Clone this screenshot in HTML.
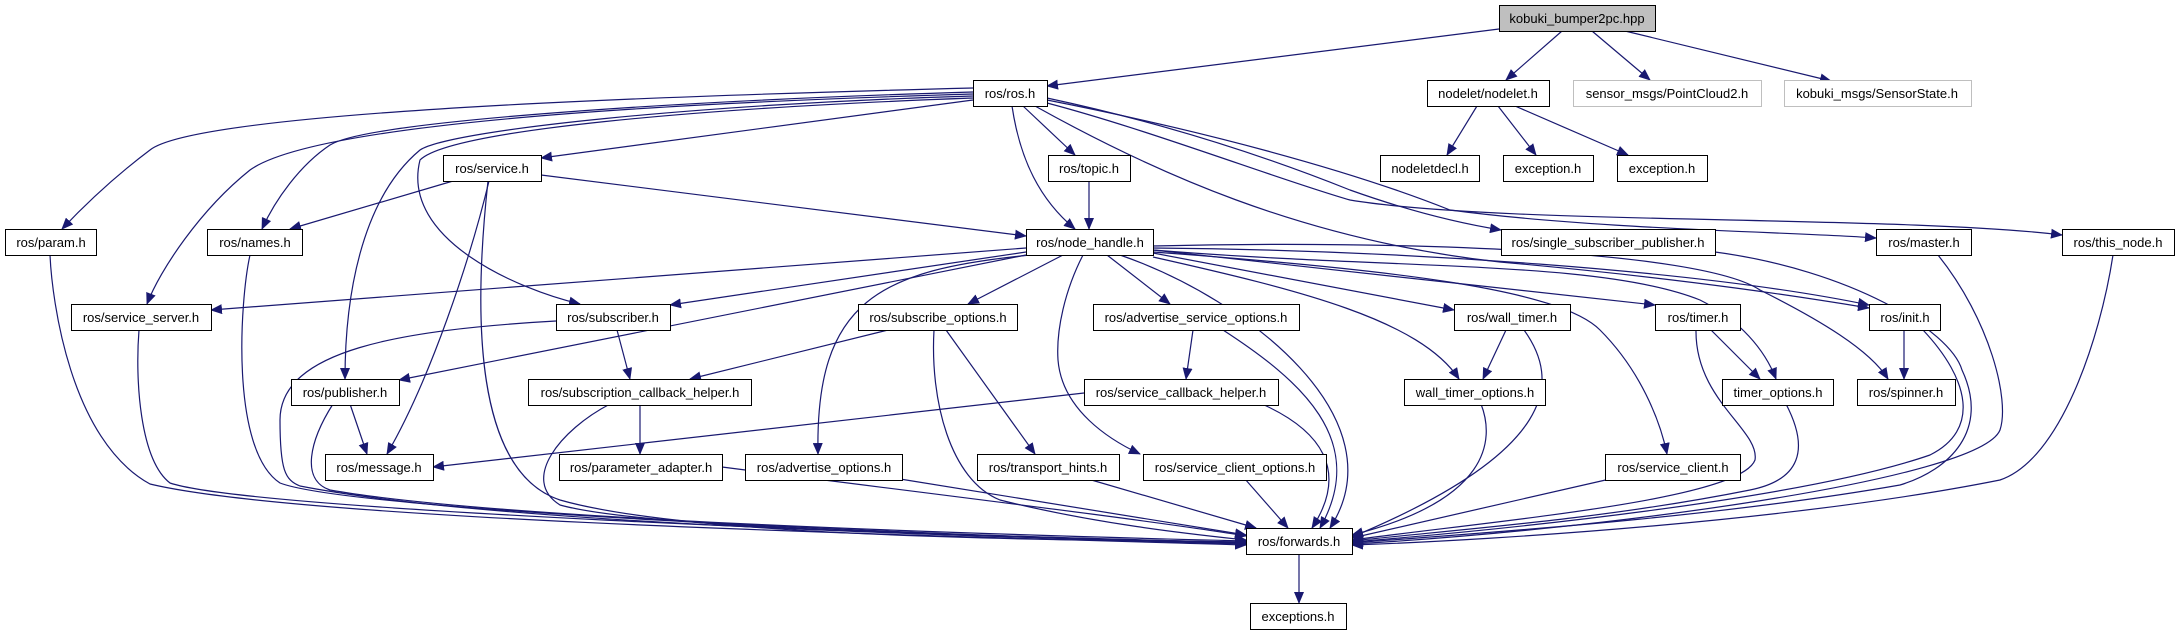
<!DOCTYPE html>
<html><head><meta charset="utf-8"><style>
html,body{margin:0;padding:0;background:#fff;}
svg{display:block;}
text{font-family:"Liberation Sans",Arial,sans-serif;font-size:13px;fill:#000;}
</style></head><body>
<svg width="2179" height="635" viewBox="0 0 2179 635" xmlns="http://www.w3.org/2000/svg">
<defs>
<marker id="a" markerWidth="12" markerHeight="10" refX="11" refY="5" orient="auto" markerUnits="userSpaceOnUse">
<polygon points="0,0 12,5 0,10" fill="#191970"/>
</marker>
</defs>
<g fill="none" stroke="#191970" stroke-width="1.2" marker-end="url(#a)">
<path d="M1499,29 L1047,86"/>
<path d="M1562,31 L1506,80"/>
<path d="M1592,31 L1650,80"/>
<path d="M1625,31 L1831,81"/>
<path d="M1477,106 L1447,155"/>
<path d="M1498,106 L1536,155"/>
<path d="M1515,106 L1628,155"/>
<path d="M1023,106 L1075,155"/>
<path d="M1089,181 L1089,229"/>
<path d="M1012,106 C1020,160 1040,200 1075,229"/>
<path d="M973,100 L541,158"/>
<path d="M453,181 L290,229"/>
<path d="M541,175 L1026,236"/>
<path d="M489,181 C470,260 430,380 387,454"/>
<path d="M488,181 C475,300 470,470 560,500 C700,540 1100,540 1246,542"/>
<path d="M973,88 C700,95 200,110 150,150 C110,180 80,210 62,229"/>
<path d="M973,92 C700,100 370,120 330,145 C300,165 275,200 262,229"/>
<path d="M973,94 C700,102 320,120 250,170 C200,210 160,270 147,304"/>
<path d="M973,96 C700,104 450,130 420,150 C360,200 345,300 345,379"/>
<path d="M973,98 C700,108 450,130 420,160 C400,240 520,290 580,304"/>
<path d="M1047,98 C1150,120 1250,150 1350,190 C1420,215 1470,225 1501,230"/>
<path d="M1047,100 C1200,130 1350,170 1450,210 C1600,230 1800,232 1876,238"/>
<path d="M1047,103 C1150,130 1280,180 1350,200 C1500,225 1900,215 2062,235"/>
<path d="M1035,106 C1150,170 1300,240 1500,262 C1700,280 1820,300 1869,308"/>
<path d="M1153,246 C1400,240 1700,250 1760,290 C1820,320 1870,350 1888,379"/>
<path d="M1153,250 C1400,270 1600,260 1700,300 C1740,320 1765,350 1776,379"/>
<path d="M1026,248 L211,310"/>
<path d="M1026,252 L670,305"/>
<path d="M1026,255 L399,380"/>
<path d="M1063,255 L968,304"/>
<path d="M1030,255 C880,270 815,300 818,454"/>
<path d="M1107,255 L1170,304"/>
<path d="M1083,255 C1065,290 1056,330 1058,360 C1062,410 1110,440 1140,454"/>
<path d="M1120,255 C1250,300 1400,420 1330,528"/>
<path d="M1223,330 C1300,380 1370,440 1320,528"/>
<path d="M1262,404 C1320,430 1350,470 1312,528"/>
<path d="M1153,253 L1454,310"/>
<path d="M1153,257 C1300,290 1420,320 1459,379"/>
<path d="M1506,330 L1483,379"/>
<path d="M1153,250 L1655,305"/>
<path d="M1153,252 C1400,270 1560,290 1600,330 C1640,370 1660,420 1667,454"/>
<path d="M1153,248 C1400,250 1700,270 1869,305"/>
<path d="M1711,330 L1760,379"/>
<path d="M1904,330 L1904,379"/>
<path d="M617,330 L630,379"/>
<path d="M888,330 L690,379"/>
<path d="M946,330 L1035,454"/>
<path d="M934,330 C930,400 950,480 1000,500 C1100,525 1200,535 1246,540"/>
<path d="M1193,330 L1186,379"/>
<path d="M1084,393 L433,467"/>
<path d="M350,404 L367,454"/>
<path d="M640,404 L640,454"/>
<path d="M610,404 C560,430 520,480 560,505 C650,530 1000,535 1246,543"/>
<path d="M50,255 C52,300 70,440 150,484 C300,520 900,535 1246,545"/>
<path d="M139,330 C135,380 140,460 170,483 C250,510 900,535 1246,544"/>
<path d="M250,255 C240,300 230,450 280,483 C350,510 900,535 1246,543"/>
<path d="M333,404 C310,440 300,480 330,490 C500,520 1000,535 1246,541"/>
<path d="M556,321 C400,330 280,350 280,420 C280,470 285,480 300,486 C500,525 1000,538 1246,542"/>
<path d="M722,467 C900,490 1150,520 1246,536"/>
<path d="M900,479 L1246,535"/>
<path d="M1088,479 L1256,528"/>
<path d="M1245,479 L1288,528"/>
<path d="M1481,404 C1495,440 1490,500 1352,535"/>
<path d="M1524,330 C1560,380 1560,450 1352,537"/>
<path d="M1610,479 L1352,538"/>
<path d="M1696,330 C1695,400 1760,430 1755,460 C1740,500 1500,520 1352,540"/>
<path d="M1786,404 C1810,450 1800,480 1750,490 C1600,520 1450,530 1352,541"/>
<path d="M1923,330 C1970,380 1980,430 1930,455 C1800,500 1500,530 1352,542"/>
<path d="M1715,252 C1850,270 1950,330 1962,370 C1990,430 1950,470 1900,485 C1700,520 1450,535 1352,543"/>
<path d="M1938,255 C1990,320 2010,400 2000,430 C1980,480 1600,530 1352,544"/>
<path d="M2113,255 C2100,340 2060,460 2000,480 C1800,520 1500,540 1352,545"/>
<path d="M1299,554 L1299,603"/>
</g>
<g stroke="#000" stroke-width="1" fill="#fff">
<rect x="1499.5" y="5.5" width="156" height="26" fill="#bfbfbf"/>
<rect x="973.5" y="80.5" width="74" height="26"/>
<rect x="1427.5" y="80.5" width="122" height="26"/>
<rect x="1573.5" y="80.5" width="188" height="26" stroke="#bfbfbf"/>
<rect x="1784.5" y="80.5" width="187" height="26" stroke="#bfbfbf"/>
<rect x="443.5" y="155.5" width="98" height="26"/>
<rect x="1048.5" y="155.5" width="82" height="26"/>
<rect x="1380.5" y="155.5" width="99" height="26"/>
<rect x="1503.5" y="155.5" width="90" height="26"/>
<rect x="1617.5" y="155.5" width="90" height="26"/>
<rect x="5.5" y="229.5" width="91" height="26"/>
<rect x="207.5" y="229.5" width="95" height="26"/>
<rect x="1026.5" y="229.5" width="127" height="26"/>
<rect x="1501.5" y="229.5" width="214" height="26"/>
<rect x="1876.5" y="229.5" width="95" height="26"/>
<rect x="2062.5" y="229.5" width="112" height="26"/>
<rect x="71.5" y="304.5" width="140" height="26"/>
<rect x="556.5" y="304.5" width="114" height="26"/>
<rect x="858.5" y="304.5" width="159" height="26"/>
<rect x="1093.5" y="304.5" width="206" height="26"/>
<rect x="1454.5" y="304.5" width="116" height="26"/>
<rect x="1655.5" y="304.5" width="85" height="26"/>
<rect x="1869.5" y="304.5" width="71" height="26"/>
<rect x="291.5" y="379.5" width="108" height="26"/>
<rect x="528.5" y="379.5" width="223" height="26"/>
<rect x="1084.5" y="379.5" width="194" height="26"/>
<rect x="1404.5" y="379.5" width="141" height="26"/>
<rect x="1722.5" y="379.5" width="111" height="26"/>
<rect x="1857.5" y="379.5" width="98" height="26"/>
<rect x="325.5" y="454.5" width="108" height="26"/>
<rect x="559.5" y="454.5" width="163" height="26"/>
<rect x="745.5" y="454.5" width="157" height="26"/>
<rect x="977.5" y="454.5" width="142" height="26"/>
<rect x="1143.5" y="454.5" width="183" height="26"/>
<rect x="1605.5" y="454.5" width="135" height="26"/>
<rect x="1246.5" y="528.5" width="106" height="26"/>
<rect x="1250.5" y="603.5" width="96" height="26"/>
</g>
<g text-anchor="middle">
<text x="1577" y="23">kobuki_bumper2pc.hpp</text>
<text x="1010" y="98">ros/ros.h</text>
<text x="1488" y="98">nodelet/nodelet.h</text>
<text x="1667" y="98">sensor_msgs/PointCloud2.h</text>
<text x="1877" y="98">kobuki_msgs/SensorState.h</text>
<text x="492" y="173">ros/service.h</text>
<text x="1089" y="173">ros/topic.h</text>
<text x="1430" y="173">nodeletdecl.h</text>
<text x="1548" y="173">exception.h</text>
<text x="1662" y="173">exception.h</text>
<text x="51" y="247">ros/param.h</text>
<text x="255" y="247">ros/names.h</text>
<text x="1090" y="247">ros/node_handle.h</text>
<text x="1608" y="247">ros/single_subscriber_publisher.h</text>
<text x="1924" y="247">ros/master.h</text>
<text x="2118" y="247">ros/this_node.h</text>
<text x="141" y="322">ros/service_server.h</text>
<text x="613" y="322">ros/subscriber.h</text>
<text x="938" y="322">ros/subscribe_options.h</text>
<text x="1196" y="322">ros/advertise_service_options.h</text>
<text x="1512" y="322">ros/wall_timer.h</text>
<text x="1698" y="322">ros/timer.h</text>
<text x="1905" y="322">ros/init.h</text>
<text x="345" y="397">ros/publisher.h</text>
<text x="640" y="397">ros/subscription_callback_helper.h</text>
<text x="1181" y="397">ros/service_callback_helper.h</text>
<text x="1475" y="397">wall_timer_options.h</text>
<text x="1778" y="397">timer_options.h</text>
<text x="1906" y="397">ros/spinner.h</text>
<text x="379" y="472">ros/message.h</text>
<text x="641" y="472">ros/parameter_adapter.h</text>
<text x="824" y="472">ros/advertise_options.h</text>
<text x="1048" y="472">ros/transport_hints.h</text>
<text x="1235" y="472">ros/service_client_options.h</text>
<text x="1673" y="472">ros/service_client.h</text>
<text x="1299" y="546">ros/forwards.h</text>
<text x="1298" y="621">exceptions.h</text>
</g>
</svg>
</body></html>
